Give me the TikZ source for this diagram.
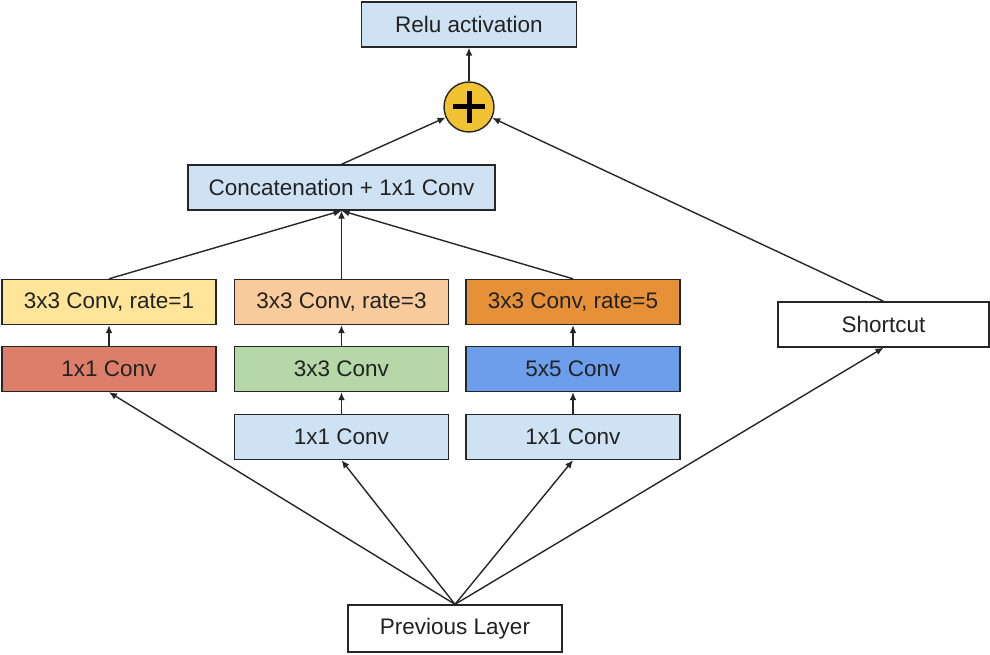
\documentclass[tikz,border=0pt]{standalone}
\usepackage{fontspec}
\setmainfont{Liberation Sans}
\usetikzlibrary{arrows.meta}
\definecolor{lblue}{HTML}{CFE2F3}
\definecolor{lyellow}{HTML}{FFE599}
\definecolor{lorange}{HTML}{F9CB9C}
\definecolor{dorange}{HTML}{E69138}
\definecolor{lred}{HTML}{DD7E6B}
\definecolor{lgreen}{HTML}{B6D7A8}
\definecolor{mblue}{HTML}{6D9EEB}
\definecolor{gold}{HTML}{F1C232}
\definecolor{txt}{HTML}{222222}
\begin{document}
\begin{tikzpicture}[x=1pt,y=-1pt,
  blk/.style={draw=black!85, line width=1.4pt, rectangle, minimum width=214pt, minimum height=45pt, inner sep=0pt, text=txt, font=\fontsize{22.5}{26}\selectfont},
  arr/.style={line width=1.4pt, draw=black!85, -{Latex[length=8pt,width=7pt]}}]
\useasboundingbox (0,0) rectangle (990,655);
\node[blk, fill=lblue, minimum width=215pt] (relu) at (469,24.5) {Relu activation};
\node[draw=black!85, line width=1.4pt, circle, fill=gold, minimum size=50pt, inner sep=0pt] (plus) at (469,107) {};
\draw[line width=5pt, black] (453,107) -- (485,107) (469,91) -- (469,123);
\node[blk, fill=lblue, minimum width=307pt] (concat) at (341.5,187.5) {Concatenation + 1x1 Conv};
\node[blk, fill=lyellow] (r1) at (109,302) {3x3 Conv, rate=1};
\node[blk, fill=lorange] (r3) at (341.5,302) {3x3 Conv, rate=3};
\node[blk, fill=dorange] (r5) at (573,302) {3x3 Conv, rate=5};
\node[blk, fill=lred] (a1) at (109,369) {1x1 Conv};
\node[blk, fill=lgreen] (a3) at (341.5,369) {3x3 Conv};
\node[blk, fill=mblue] (a5) at (573,369) {5x5 Conv};
\node[blk, fill=lblue] (b3) at (341.5,437) {1x1 Conv};
\node[blk, fill=lblue] (b5) at (573,437) {1x1 Conv};
\node[blk, fill=white, minimum width=211pt] (sc) at (883.5,324.5) {Shortcut};
\node[blk, fill=white, minimum height=47pt] (prev) at (455,628.5) {Previous Layer};
\draw[arr] (prev.north) -- (a1.south);
\draw[arr] (prev.north) -- (b3.south);
\draw[arr] (prev.north) -- (b5.south);
\draw[arr] (prev.north) -- (sc.south);
\draw[arr] (b3.north) -- (a3.south);
\draw[arr] (b5.north) -- (a5.south);
\draw[arr] (a1.north) -- (r1.south);
\draw[arr] (a3.north) -- (r3.south);
\draw[arr] (a5.north) -- (r5.south);
\draw[arr] (r1.north) -- (concat.south);
\draw[arr] (r3.north) -- (concat.south);
\draw[arr] (r5.north) -- (concat.south);
\draw[arr] (concat.north) -- (plus);
\draw[arr] (sc.north) -- (plus);
\draw[arr] (plus.north) -- (relu.south);
\end{tikzpicture}
\end{document}
